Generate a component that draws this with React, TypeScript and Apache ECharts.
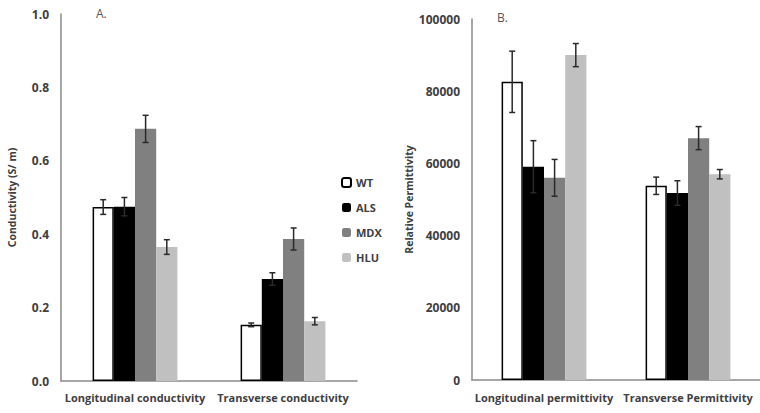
import React, { useEffect, useRef } from "react";
import * as echarts from "echarts";

const groups = ["WT", "ALS", "MDX", "HLU"];
const colors = ["#ffffff", "#000000", "#808080", "#c0c0c0"];

const condCategories = ["Longitudinal conductivity", "Transverse conductivity"];
const condWT = [0.474, 0.153];
const condALS = [0.475, 0.278];
const condMDX = [0.687, 0.387];
const condHLU = [0.365, 0.163];
const condErrWT = [0.02, 0.005];
const condErrALS = [0.025, 0.017];
const condErrMDX = [0.037, 0.03];
const condErrHLU = [0.02, 0.01];

const permCategories = ["Longitudinal permittivity", "Transverse Permittivity"];
const permWT = [82600, 53800];
const permALS = [59100, 51800];
const permMDX = [56000, 67000];
const permHLU = [90000, 57000];
const permErrWT = [8500, 2400];
const permErrALS = [7200, 3400];
const permErrMDX = [5100, 3200];
const permErrHLU = [3200, 1300];

const BAR_W = 21.2;
const FONT = "'Open Sans', sans-serif";
const TEXT = "#404040";

export default function App() {
  const ref = useRef<HTMLDivElement>(null);
  useEffect(() => {
    if (!ref.current) return;
    const chart = echarts.init(ref.current, null, { renderer: "svg" });

    const condVals = [condWT, condALS, condMDX, condHLU];
    const condErrs = [condErrWT, condErrALS, condErrMDX, condErrHLU];
    const permVals = [permWT, permALS, permMDX, permHLU];
    const permErrs = [permErrWT, permErrALS, permErrMDX, permErrHLU];

    const barSeries = (vals: number[][], axis: number) =>
      vals.map((v, i) => ({
        type: "bar",
        name: groups[i],
        xAxisIndex: axis,
        yAxisIndex: axis,
        data: v,
        barWidth: BAR_W,
        barGap: "0%",
        itemStyle: {
          color: colors[i],
          borderColor: i === 0 ? "#000" : colors[i],
          borderWidth: i === 0 ? 1.5 : 0,
        },
      }));

    const errData = (vals: number[][], errs: number[][]) => {
      const out: number[][] = [];
      vals.forEach((v, si) =>
        v.forEach((val, ci) => out.push([ci, si, val, errs[si][ci]]))
      );
      return out;
    };

    const errSeries = (vals: number[][], errs: number[][], axis: number) => ({
      type: "custom",
      xAxisIndex: axis,
      yAxisIndex: axis,
      data: errData(vals, errs),
      encode: { x: 0, y: 2 },
      z: 5,
      renderItem: (params: any, api: any) => {
        const cat = api.value(0);
        const si = api.value(1);
        const v = api.value(2);
        const e = api.value(3);
        const c = api.coord([cat, v]);
        const x = c[0] + (si - 1.5) * BAR_W;
        const yt = api.coord([cat, v + e])[1];
        const yb = api.coord([cat, v - e])[1];
        const st = { stroke: "#2a2a2a", lineWidth: 1.5 };
        const hw = 3;
        return {
          type: "group",
          children: [
            { type: "line", shape: { x1: x, y1: yt, x2: x, y2: yb }, style: st },
            { type: "line", shape: { x1: x - hw, y1: yt, x2: x + hw, y2: yt }, style: st },
            { type: "line", shape: { x1: x - hw, y1: yb, x2: x + hw, y2: yb }, style: st },
          ],
        };
      },
    });

    const axisLine = { show: true, lineStyle: { color: "#8a8a8a", width: 1.5 } };

    chart.setOption({
      animation: false,
      textStyle: { fontFamily: FONT },
      grid: [
        { left: 61, top: 14, width: 296, height: 367 },
        { left: 472, top: 19, width: 298, height: 361 },
      ],
      legend: {
        data: groups,
        orient: "vertical",
        left: 336,
        top: 172,
        itemWidth: 9,
        itemHeight: 9,
        itemGap: 14,
        textStyle: { color: TEXT, fontSize: 11, fontWeight: "bold", fontFamily: FONT },
      },
      xAxis: [
        {
          type: "category",
          gridIndex: 0,
          data: condCategories,
          axisLine,
          axisTick: { show: false },
          axisLabel: { color: TEXT, fontSize: 11, fontWeight: "bold", margin: 11, interval: 0 },
        },
        {
          type: "category",
          gridIndex: 1,
          data: permCategories,
          axisLine,
          axisTick: { show: false },
          axisLabel: { color: TEXT, fontSize: 11, fontWeight: "bold", margin: 12, interval: 0 },
        },
      ],
      yAxis: [
        {
          type: "value",
          gridIndex: 0,
          min: 0,
          max: 1,
          interval: 0.2,
          axisLine,
          axisTick: { show: false },
          splitLine: { show: false },
          axisLabel: {
            color: TEXT,
            fontSize: 12,
            fontWeight: "bold",
            margin: 12,
            formatter: (v: number) => v.toFixed(1),
          },
          name: "Conductivity (S/ m)",
          nameLocation: "middle",
          nameGap: 44,
          nameTextStyle: { color: TEXT, fontSize: 10.5, fontWeight: "bold" },
        },
        {
          type: "value",
          gridIndex: 1,
          min: 0,
          max: 100000,
          interval: 20000,
          axisLine,
          axisTick: { show: false },
          splitLine: { show: false },
          axisLabel: {
            color: TEXT,
            fontSize: 12,
            fontWeight: "bold",
            margin: 12,
            formatter: (v: number) => String(v),
          },
          name: "Relative Permittivity",
          nameLocation: "middle",
          nameGap: 58,
          nameTextStyle: { color: TEXT, fontSize: 10.5, fontWeight: "bold" },
        },
      ],
      graphic: [
        { type: "text", left: 96, top: 7, style: { text: "A.", fill: "#555", fontSize: 12, fontFamily: FONT } },
        { type: "text", left: 497, top: 11, style: { text: "B.", fill: "#555", fontSize: 12, fontFamily: FONT } },
      ],
      series: [
        ...barSeries(condVals, 0),
        ...barSeries(permVals, 1),
        errSeries(condVals, condErrs, 0),
        errSeries(permVals, permErrs, 1),
      ],
    });
    return () => chart.dispose();
  }, []);
  return (
    <div
      ref={ref}
      style={{ position: "fixed", left: 0, top: 0, width: 760, height: 413, background: "#fff" }}
    />
  );
}
